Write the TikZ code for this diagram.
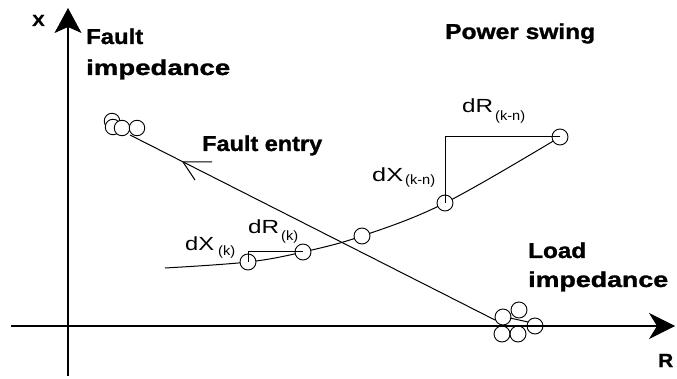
\documentclass[tikz,border=0pt]{standalone}
\usepackage{fontspec}
\setmainfont{Liberation Sans}
\newfontfamily\heavyfont[FakeBold=1.2]{Liberation Sans Bold}
\usetikzlibrary{arrows.meta}
\newcommand{\wbold}[3]{\fontsize{#1}{#1}\selectfont\resizebox{#2}{\height}{\heavyfont #3}}
\newcommand{\wreg}[3]{\fontsize{#1}{#1}\selectfont\resizebox{#2}{\height}{#3}}
\begin{document}
\begin{tikzpicture}[x=1pt,y=-1pt,
  lbl/.style={inner sep=0pt,anchor=base west},
  ln/.style={line width=1pt,black},
  pt/.style={draw,circle,line width=0.9pt,fill=white,minimum size=16pt,inner sep=0pt},
  ptc/.style={draw,circle,line width=0.9pt,minimum size=16pt,inner sep=0pt}]
\useasboundingbox (0,0) rectangle (677,379);
% axes
\coordinate (xb) at (68,376);
\coordinate (xt) at (68,8);
\coordinate (rb) at (11,326);
\coordinate (rt) at (675,326);
\draw[line width=1.1pt,-{Stealth[length=25pt,width=27pt,inset=6pt]}] (xb) -- (xt);
\draw[line width=1.1pt,-{Stealth[length=26pt,width=26pt,inset=8pt]}] (rb) -- (rt);
\node[lbl] (xl) at (32,26) {\wbold{16}{12.5pt}{X}};
\node[lbl] (rl) at (658,367) {\wbold{19}{15pt}{R}};
% labels
\node[lbl] (f1) at (86,44) {\wbold{21.5}{57pt}{Fault}};
\node[lbl] (f2) at (86,75) {\wbold{21.5}{144pt}{impedance}};
\node[lbl] (ps) at (445,39) {\wbold{21.5}{150pt}{Power swing}};
\node[lbl] (fe) at (202,151) {\wbold{21.5}{120pt}{Fault entry}};
\node[lbl] (l1) at (528,258) {\wbold{21.5}{58pt}{Load}};
\node[lbl] (l2) at (528,287) {\wbold{21.5}{140pt}{impedance}};
% fault trajectory
\coordinate (fs) at (130,135);
\coordinate (fend) at (495,320);
\coordinate (ftip) at (183,162);
\coordinate (fw1) at (212,162);
\coordinate (fw2) at (195,180);
\draw[ln] (fs) -- (fend);
\draw[ln] (fw1) -- (ftip) -- (fw2);
\node[pt,minimum size=15.5pt] (c1) at (112,121) {};
\node[pt,minimum size=15.5pt] (c2) at (113,127) {};
\node[pt,minimum size=15.5pt] (c3) at (122,128) {};
\node[pt,minimum size=15.5pt] (c4) at (137,128) {};
% load cluster
\node[ptc] (d1) at (503,317) {};
\node[ptc] (d2) at (519,310) {};
\node[ptc] (d3) at (535,326) {};
\node[ptc] (d4) at (502,334) {};
\node[ptc] (d5) at (518,334) {};
\draw[ln] (510,318) -- (528,322);
% power swing curve
\coordinate (s0) at (165,268);
\draw[ln] plot[smooth,tension=0.6] coordinates {(165,268) (248,262) (303,252) (362,236) (445,203) (560,137)};
\node[pt] (p1) at (248,262) {};
\node[pt] (p2) at (303,252) {};
\node[pt] (p3) at (362,236) {};
\node[pt] (p4) at (445,203) {};
\node[pt] (p5) at (560,137) {};
% construction lines
\coordinate (k1) at (248,252);
\coordinate (k2) at (445,137);
\draw[ln] (p1.north) -- (k1) -- (p2.west);
\draw[ln] (p4.north) -- (k2) -- (p5.west);
\draw[ln] (p1.center) -- (p1.north);
\draw[ln] (p4.center) -- (p4.north);
\draw[ln] (p2.center) -- (p2.west);
\draw[ln] (p5.center) -- (p5.west);
% small labels
\node[lbl] (dx1) at (185,251) {\wreg{19}{29pt}{dX}};
\node[lbl] (dx1s) at (218,255.5) {\wreg{13.5}{17pt}{(k)}};
\node[lbl] (dr1) at (248,234) {\wreg{19}{31pt}{dR}};
\node[lbl] (dr1s) at (281,240.5) {\wreg{13.5}{17pt}{(k)}};
\node[lbl] (dr2) at (462,113) {\wreg{19}{31pt}{dR}};
\node[lbl] (dr2s) at (495,120.5) {\wreg{13.5}{30pt}{(k-n)}};
\node[lbl] (dx2) at (372,182) {\wreg{19}{31pt}{dX}};
\node[lbl] (dx2s) at (405,185) {\wreg{13.5}{30pt}{(k-n)}};
\end{tikzpicture}
\end{document}
